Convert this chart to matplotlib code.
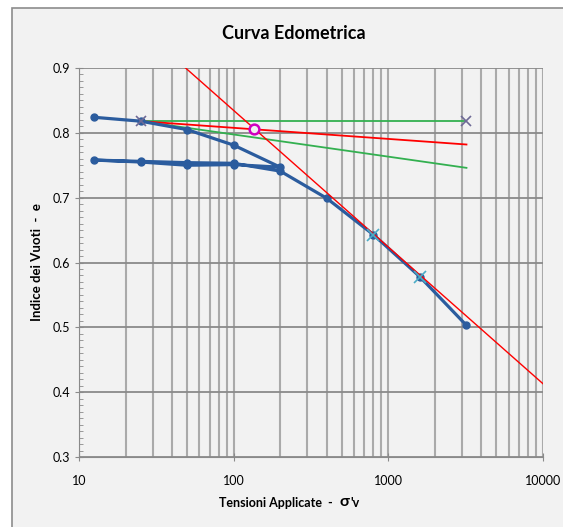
import matplotlib.pyplot as plt
import matplotlib.ticker as mticker
from matplotlib.patches import Rectangle

# --- DATA ---
# oedometer curve: load, unload, reload
sigma_v = [12.5, 25, 50, 100, 200, 100, 50, 25, 12.5, 25, 50, 100, 200, 400, 800, 1600, 3200]
void_e = [0.824, 0.818, 0.805, 0.781, 0.747, 0.751, 0.750, 0.755, 0.758,
          0.756, 0.754, 0.753, 0.741, 0.699, 0.643, 0.578, 0.503]

# Casagrande construction
horiz_x = [25, 3200]
horiz_y = [0.818, 0.818]
tangent_x = [25, 3200]
tangent_y = [0.818, 0.746]
bisector_x = [25, 3200]
bisector_y = [0.818, 0.782]
cc_line_x = [48.9, 10000]
cc_line_y = [0.900, 0.413]
cc_pts_x = [800, 1600]
cc_pts_y = [0.642, 0.578]
precons_x = [136]
precons_y = [0.806]

plt.rcParams['font.family'] = ['Lato', 'DejaVu Sans']

W, H = 563, 527
fig = plt.figure(figsize=(W / 100, H / 100), dpi=100, facecolor='white')

# chart area frame (behind the axes)
frame = Rectangle((12 / W, -0.01), 1.02, 1 - 8 / H + 0.01, transform=fig.transFigure,
                  facecolor='#f2f2f2', edgecolor='#8c8c8c', linewidth=1.2, zorder=-10)
fig.patches.append(frame)

ax = fig.add_axes([79 / W, 1 - 457 / H, (543 - 79) / W, (457 - 68) / H])
ax.set_facecolor('#f2f2f2')
ax.set_xscale('log')
ax.set_xlim(10, 10000)
ax.set_ylim(0.3, 0.9)

# grid
ax.grid(True, which='major', axis='y', color='#8a8a8a', linewidth=1.3)
ax.grid(True, which='both', axis='x', color='#aaaaaa', linewidth=1.5)
ax.set_axisbelow(True)

ax.yaxis.set_major_locator(mticker.MultipleLocator(0.1))
ax.yaxis.set_minor_locator(mticker.MultipleLocator(0.01))
ax.yaxis.set_major_formatter(mticker.FormatStrFormatter('%.1f'))
ax.xaxis.set_major_formatter(mticker.FuncFormatter(lambda v, p: f'{v:.0f}'))
ax.xaxis.set_minor_formatter(mticker.NullFormatter())

ax.tick_params(axis='both', which='major', labelsize=9, color='#8a8a8a', direction='inout', length=6)
ax.tick_params(axis='y', which='minor', direction='in', length=3, color='#8a8a8a')
ax.tick_params(axis='x', which='minor', direction='in', length=3, color='#aaaaaa')
ax.tick_params(axis='x', which='major', pad=10)
for s in ['top', 'right']:
    ax.spines[s].set_visible(False)
for s in ['left', 'bottom']:
    ax.spines[s].set_color('#8a8a8a')

# construction lines
ax.plot(horiz_x, horiz_y, color='#33b050', linewidth=1.3, zorder=3)
ax.plot(tangent_x, tangent_y, color='#33b050', linewidth=1.3, zorder=3)
ax.plot(bisector_x, bisector_y, color='#ff0000', linewidth=1.3, zorder=3)
ax.plot(cc_line_x, cc_line_y, color='#ff0000', linewidth=1.0, zorder=5)

# oedometer curve
ax.plot(sigma_v, void_e, color='#2b5c9e', linewidth=2.3, marker='o', markersize=5, zorder=4)

# markers
ax.plot(horiz_x, horiz_y, linestyle='none', marker='x', color='#6e6a96', markersize=7, mew=1.2, zorder=6)
ax.plot(cc_pts_x, cc_pts_y, linestyle='none', marker='x', color='#4bacc6', markersize=8, mew=1.2, zorder=6)
ax.plot(precons_x, precons_y, linestyle='none', marker='o', markersize=7, mfc='#f2f2f2',
        mec='#d000c0', mew=1.8, zorder=7)

fig.text(294 / W, 1 - 34 / H, 'Curva Edometrica', ha='center', va='center', fontsize=13, fontweight='bold')
fig.text(339 / W, 1 - 503 / H, "Tensioni Applicate  -  ", ha='right', va='center',
         fontsize=9, fontweight='bold')
fig.text(339 / W, 1 - 502 / H, "σ", ha='left', va='center', fontsize=11.5, fontweight='bold')
fig.text(350.5 / W, 1 - 503 / H, "'v", ha='left', va='center', fontsize=9, fontweight='bold')
fig.text(37 / W, 1 - 262 / H, 'Indice dei Vuoti  -  e', ha='center', va='center', rotation=90,
         fontsize=9.5, fontweight='bold')

fig.savefig('out.png', dpi=100, facecolor=fig.get_facecolor())
